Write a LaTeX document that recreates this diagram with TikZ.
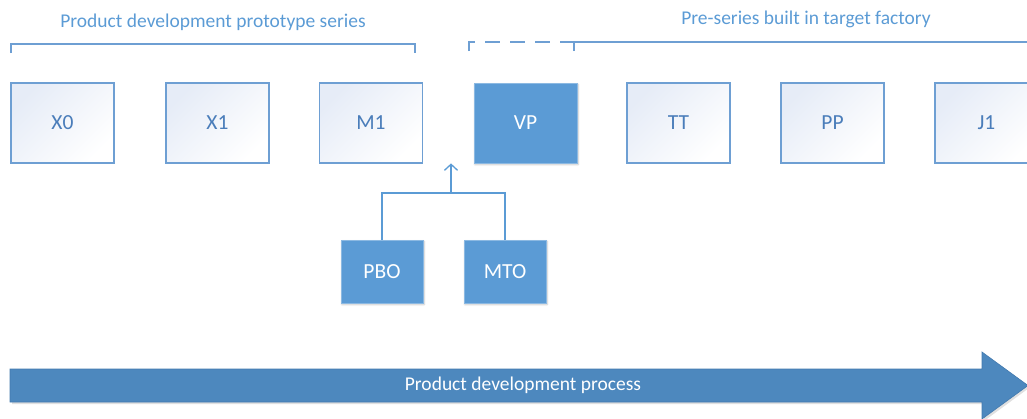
\documentclass[tikz,border=0pt]{standalone}
\usepackage{fontspec}
\setmainfont{Carlito}
\usetikzlibrary{arrows.meta,shadows.blur}
\definecolor{accent}{HTML}{5B9BD5}
\definecolor{edge}{HTML}{6E9FD3}
\definecolor{tint}{HTML}{E6ECF7}
\definecolor{flow}{HTML}{4D88BE}
\definecolor{flowedge}{HTML}{4279AE}
\definecolor{label}{HTML}{4A7DBA}
\tikzset{
  stage/.style={draw=edge, line width=1.1pt, top color=tint, bottom color=white,
    shading angle=45, minimum width=103pt, minimum height=80pt, inner sep=0pt,
    text=label, font=\fontsize{21.5}{23}\selectfont},
  keystage/.style={draw=accent!70!white, line width=0.8pt, fill=accent,
    minimum width=103pt, minimum height=80pt, inner sep=0pt, text=white,
    font=\fontsize{21.5}{23}\selectfont,
    blur shadow={shadow xshift=1pt, shadow yshift=-1.5pt, shadow blur steps=4, shadow opacity=25}},
  order/.style={keystage, minimum width=82pt, minimum height=63pt},
  link/.style={draw=accent, line width=1.3pt},
  bracket/.style={draw=edge, line width=1.3pt},
  caption/.style={text=accent, font=\fontsize{19.5}{21}\selectfont, inner sep=0pt},
}
\begin{document}
\begin{tikzpicture}[x=1pt, y=-1pt]
  \useasboundingbox (0,0) rectangle (1027,418);

  % series captions and brackets
  \node[caption] (devtitle) at (213,22) {Product development prototype series};
  \node[caption] (pretitle) at (806,19) {Pre-series built in target factory};
  \draw[bracket] (11,53) -- (11,44) -- (415,44) -- (415,53);
  \draw[bracket, dash pattern=on 15pt off 10pt] (469,51) -- (469,42) -- (574,42);
  \draw[bracket] (574,51) -- (574,42) -- (1030,42);

  % prototype stages
  \node[stage]    (X0) at (62.5,123)  {X0};
  \node[stage]    (X1) at (217.5,123) {X1};
  \node[stage]    (M1) at (371,123)   {M1};
  \node[keystage] (VP) at (525.5,123) {VP};
  \node[stage]    (TT) at (678.5,123) {TT};
  \node[stage]    (PP) at (832.5,123) {PP};
  \node[stage]    (J1) at (986.5,123) {J1};

  % order types feeding the stage gate
  \node[order] (PBO) at (382,271.5) {PBO};
  \node[order] (MTO) at (505,271.5) {MTO};
  \coordinate (join) at (451,193);
  \draw[link] (PBO.north) |- (join) -| (MTO.north);
  \draw[link, -{Straight Barb[length=6pt, width=13pt, line width=1.3pt]}] (join) -- (join |- VP.south);

  % process arrow
  \fill[black, opacity=0.12] (12,404) -- (984,404) -- (984,421) -- (1029,388) -- (984,355) -- (984,372) -- (12,372) -- cycle;
  \draw[fill=flow, draw=flowedge, line width=0.6pt]
    (10,369) -- (982,369) -- (982,352) -- (1028,385.5) -- (982,419) -- (982,402) -- (10,402) -- cycle;
  \node[text=white, font=\fontsize{19.5}{21}\selectfont, inner sep=0pt] (process) at (523,385.5) {Product development process};
\end{tikzpicture}
\end{document}
